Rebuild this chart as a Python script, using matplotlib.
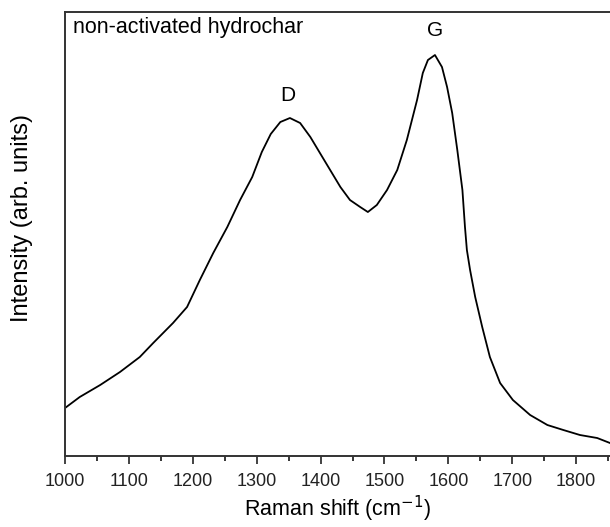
import matplotlib.pyplot as plt
from matplotlib.ticker import MultipleLocator

plt.rcParams['font.family'] = ['Liberation Sans', 'DejaVu Sans']

# Raman spectrum (intensity in arbitrary units)
shift = [1000, 1023, 1055, 1086, 1117, 1138, 1169, 1191, 1211, 1232, 1254, 1274,
         1293, 1308, 1322, 1337, 1352, 1368, 1384, 1399, 1415, 1431, 1446, 1462,
         1474, 1488, 1504, 1520, 1535, 1551, 1560, 1568, 1579, 1590, 1598, 1606,
         1614, 1622, 1626, 1629, 1634, 1642, 1653, 1665, 1681, 1701, 1728, 1755,
         1780, 1806, 1833, 1853]
intensity = [48, 59, 71, 84, 99, 113, 133, 149, 176, 203, 229, 256,
             279, 304, 322, 334, 338, 333, 319, 303, 286, 269, 256, 249,
             244, 251, 266, 286, 316, 356, 383, 396, 401, 389, 369, 343,
             306, 266, 229, 206, 186, 159, 129, 99, 73, 56, 41, 31,
             26, 21, 18, 13]

peak_names = ['D', 'G']
peak_pos = [1348, 1579]
peak_lab_y = [361, 426]

fig = plt.figure(figsize=(6.10, 5.27), dpi=100)
ax = fig.add_axes([0.1066, 0.1347, 0.8934, 0.8425])

ax.plot(shift, intensity, color='black', lw=1.3)

for name, x, y in zip(peak_names, peak_pos, peak_lab_y):
    ax.text(x, y, name, ha='center', va='center', fontsize=15)

ax.text(0.015, 0.966, 'non-activated hydrochar', transform=ax.transAxes,
        ha='left', va='center', fontsize=15.5)

ax.set_xlim(1000, 1853)
ax.set_ylim(0, 444)
ax.xaxis.set_major_locator(MultipleLocator(100))
ax.xaxis.set_minor_locator(MultipleLocator(50))
ax.set_yticks([])
ax.tick_params(axis='x', which='major', direction='out', length=6, width=1.2,
               labelsize=13, pad=6, colors='#222222')
ax.tick_params(axis='x', which='minor', direction='out', length=3.5, width=1.1)

ax.spines['right'].set_visible(False)
for s in ['left', 'top', 'bottom']:
    ax.spines[s].set_linewidth(1.4)
    ax.spines[s].set_color('#333333')

ax.set_xlabel('Raman shift (cm$^{-1}$)', fontsize=15.5, labelpad=3)
ax.set_ylabel('Intensity (arb. units)', fontsize=17, va='center')
ax.yaxis.set_label_coords(-0.079, 0.536)

fig.savefig('out.png', dpi=100)
